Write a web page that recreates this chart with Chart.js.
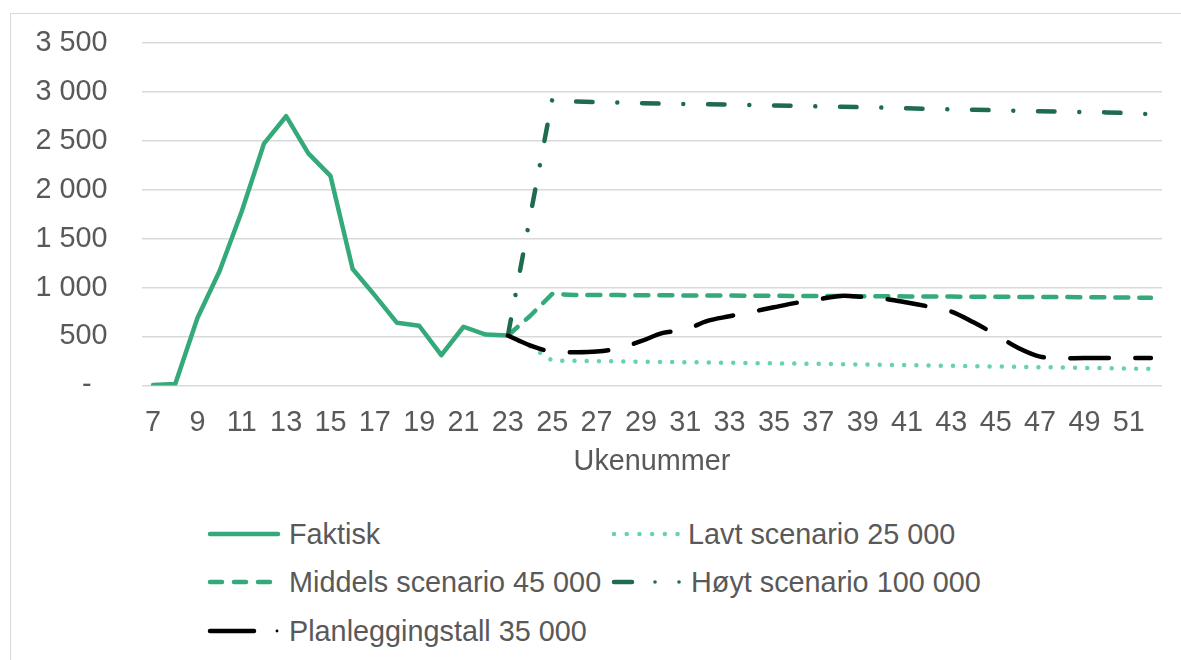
<!DOCTYPE html>
<html lang="no">
<head>
<meta charset="utf-8">
<title>Ukenummer – scenarier</title>
<script src="https://cdn.jsdelivr.net/npm/chart.js@4.4.1/dist/chart.umd.min.js"></script>
<style>
  html, body { margin: 0; padding: 0; background: #fff; }
  body { width: 1181px; height: 660px; position: relative; overflow: hidden;
         font-family: "Liberation Sans", Arial, sans-serif; color: #595959; }
  .frame { position: absolute; left: 10px; top: 13px; width: 1200px; height: 700px;
           border-left: 1.5px solid #d9d9d9; border-top: 1.5px solid #d9d9d9; }
  /* the y tick padding is also added above the plot, so the canvas starts a bit higher */
  .plot { position: absolute; left: 10px; top: -9px; width: 1168px; height: 488px; }
  .leg { position: absolute; height: 40px; display: flex; align-items: center;
         font-size: 28.8px; white-space: nowrap; }
  .leg svg { display: block; margin-right: 7px; }
</style>
</head>
<body>
<div class="frame"></div>
<div class="plot"><canvas id="chart"></canvas></div>

<!-- legend (two columns, like the Excel original) -->
<div class="leg" style="left:206px; top:514px;">
  <svg width="76" height="12"><line x1="4" y1="6" x2="72" y2="6" stroke="#34a97a" stroke-width="4.5" stroke-linecap="round"/></svg>Faktisk
</div>
<div class="leg" style="left:610px; top:514px;">
  <svg width="71" height="12"><line x1="4" y1="6" x2="68" y2="6" stroke="#66d3a8" stroke-width="4.5" stroke-linecap="round" stroke-dasharray="0.01 12.7"/></svg>Lavt scenario 25 000
</div>
<div class="leg" style="left:206px; top:562px;">
  <svg width="76" height="12"><line x1="4" y1="6" x2="72" y2="6" stroke="#34a97a" stroke-width="4.5" stroke-linecap="round" stroke-dasharray="12 12"/></svg>Middels scenario 45 000
</div>
<div class="leg" style="left:610px; top:562px;">
  <svg width="74" height="12"><line x1="4" y1="6" x2="22" y2="6" stroke="#1f6b4e" stroke-width="4.5" stroke-linecap="round"/><circle cx="45" cy="6" r="1.8" fill="#1f6b4e"/><circle cx="69" cy="6" r="1.8" fill="#1f6b4e"/></svg>Høyt scenario 100 000
</div>
<div class="leg" style="left:206px; top:611px;">
  <svg width="76" height="12"><line x1="4" y1="6" x2="48" y2="6" stroke="#000" stroke-width="4.5" stroke-linecap="round"/><circle cx="71" cy="6" r="1.4" fill="#000"/></svg>Planleggingstall 35 000
</div>

<script>
/* ---------------------------------------------------------------
   Data
   --------------------------------------------------------------- */
const weeks = [7, 8, 9, 10, 11, 12, 13, 14, 15, 16, 17, 18, 19, 20, 21, 22, 23,
  24, 25, 26, 27, 28, 29, 30, 31, 32, 33, 34, 35, 36, 37, 38, 39, 40, 41, 42,
  43, 44, 45, 46, 47, 48, 49, 50, 51, 52];

// weeks 7–23
const faktisk = [5, 15, 690, 1170, 1780, 2470, 2750, 2370, 2140, 1190, 920,
  640, 610, 310, 600, 520, 510];

// weeks 23–52
const lavt = [510, 400, 255, 252, 249, 246, 243, 240, 238, 235, 232, 229, 226,
  224, 221, 218, 214, 211, 208, 204, 201, 197, 194, 191, 187, 184, 180, 177,
  173, 170];
const middels = [510, 710, 935, 925, 924, 923, 922, 921, 920, 919, 918, 917,
  916, 915, 914, 913, 912, 911, 910, 909, 908, 907, 906, 905, 904, 903, 902,
  900, 898, 895];
const hoyt = [510, 1720, 2920, 2900, 2895, 2890, 2884, 2878, 2875, 2872, 2868,
  2865, 2860, 2855, 2850, 2846, 2842, 2837, 2831, 2826, 2821, 2816, 2811, 2806,
  2801, 2797, 2793, 2789, 2782, 2770];
const planlegging = [510, 410, 345, 340, 347, 380, 452, 537, 570, 660, 707,
  752, 799, 844, 880, 915, 905, 885, 848, 805, 755, 645, 520, 385, 295, 280,
  280, 280, 280, 280];

const yTicks = [0, 500, 1000, 1500, 2000, 2500, 3000, 3500];

(() => {
  const startIdx = weeks.indexOf(23);
  // pad a series so it lines up with the full week axis
  const before = arr => arr.concat(Array(weeks.length - arr.length).fill(null));
  const after = arr => Array(startIdx).fill(null).concat(arr);

  const fmt = v => v === 0 ? '-  ' : String(v).replace(/\B(?=(\d{3})+(?!\d))/g, ' ');
  const fontSize = 28.8;

  Chart.defaults.font.family = '"Liberation Sans", Arial, sans-serif';
  Chart.defaults.color = '#595959';

  const line = (label, data, color, dash, order, extra = {}) => ({
    label, data, order,
    borderColor: color,
    backgroundColor: color,
    borderWidth: 4.5,
    borderDash: dash,
    borderCapStyle: 'round',
    borderJoinStyle: 'round',
    pointRadius: 0,
    fill: false,
    tension: 0,
    ...extra
  });

  new Chart(document.getElementById('chart'), {
    type: 'line',
    data: {
      labels: weeks.map(String),
      datasets: [
        line('Faktisk', before(faktisk), '#34a97a', [], 1),
        line('Lavt scenario 25 000', after(lavt), '#66d3a8', [0.01, 12.2], 4),
        line('Middels scenario 45 000', after(middels), '#34a97a', [13, 11], 3),
        line('Høyt scenario 100 000', after(hoyt), '#1f6b4e', [16.5, 24.75, 0.01, 24.75], 2),
        line('Planleggingstall 35 000', after(planlegging), '#000000', [38.5, 26.5], 0,
          { tension: 0.35 })
      ]
    },
    options: {
      responsive: true,
      maintainAspectRatio: false,
      animation: false,
      events: [],
      layout: { padding: { top: 0, right: 16, left: 0, bottom: 0 } },
      plugins: {
        legend: { display: false },
        tooltip: { enabled: false }
      },
      scales: {
        x: {
          type: 'category',
          offset: true,
          grid: { display: false, drawTicks: false },
          border: { display: false },
          ticks: {
            autoSkip: false,
            maxRotation: 0,
            padding: 20.5,
            font: { size: fontSize },
            callback: (v, i) => weeks[i] % 2 === 1 ? String(weeks[i]) : ''
          },
          title: {
            display: true,
            text: 'Ukenummer',
            font: { size: fontSize },
            padding: 0
          },
          afterFit: s => { s.height = 93.5; }
        },
        y: {
          min: yTicks[0],
          max: yTicks[yTicks.length - 1],
          afterBuildTicks: s => { s.ticks = yTicks.map(v => ({ value: v })); },
          grid: { color: '#d9d9d9', lineWidth: 1.5, drawTicks: false },
          border: { display: false },
          ticks: {
            padding: 34.5,
            font: { size: fontSize },
            callback: v => fmt(v)
          },
          afterFit: s => { s.width = 132; }
        }
      }
    }
  });
})();
</script>
</body>
</html>
